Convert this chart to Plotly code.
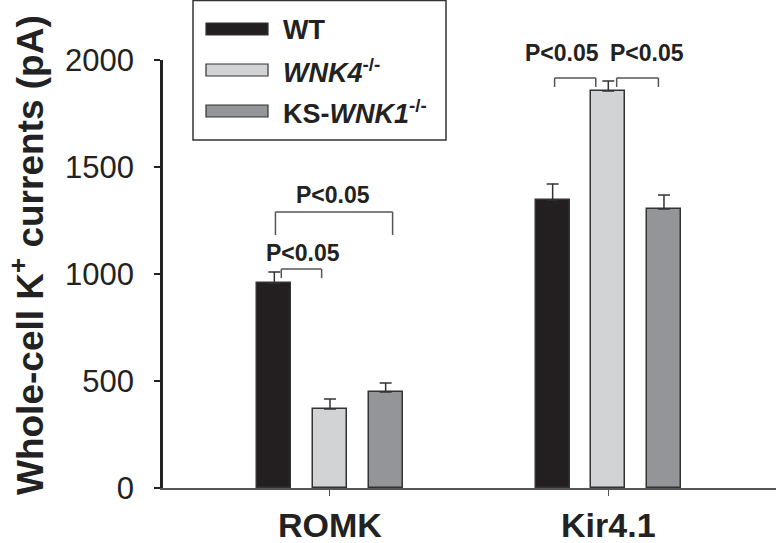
import plotly.graph_objects as go

# ---------------- data ----------------
categories = ["ROMK", "Kir4.1"]
groups = ["WT", "WNK4", "KS-WNK1"]
group_labels = ["WT", "<i>WNK4</i><sup>-/-</sup>", "KS-<i>WNK1</i><sup>-/-</sup>"]
wt_values = [958, 1346]
wnk4_values = [369, 1855]
ks_values = [449, 1304]
wt_err = [51, 75]
wnk4_err = [47, 47]
ks_err = [42, 65]
y_ticks = [0, 500, 1000, 1500, 2000]
sig_label = "P<0.05"

colors = ["#231f20", "#d1d3d4", "#939598"]
offsets = [-0.2, 0.0, 0.2]
bar_w = 0.122

W, H = 776, 543
ML, MR, MT, MB = 163, 0, 60, 55
PW, PH = W - ML - MR, H - MT - MB


def px_x(px):
    return (px - ML) / PW


def px_y(py):
    return (H - MB - py) / PH


fig = go.Figure()
series = [wt_values, wnk4_values, ks_values]
errs = [wt_err, wnk4_err, ks_err]
cat_x = list(range(len(categories)))
for gi, (vals, err) in enumerate(zip(series, errs)):
    fig.add_trace(go.Bar(
        x=[c + offsets[gi] for c in cat_x],
        y=vals,
        width=bar_w,
        name=groups[gi],
        marker=dict(color=colors[gi], line=dict(color="#333333", width=1.5)),
        error_y=dict(type="data", array=err, arrayminus=[0] * len(err),
                     symmetric=False, color="#333333", thickness=1.5, width=6),
        showlegend=False,
    ))

# ---------------- significance brackets ----------------
line_style = dict(color="#555555", width=1.5)


def bracket(x1, x2, ytop, leg):
    for xa, ya, xb, yb in [(x1, ytop - leg, x1, ytop), (x1, ytop, x2, ytop), (x2, ytop, x2, ytop - leg)]:
        fig.add_shape(type="line", x0=xa, y0=ya, x1=xb, y1=yb, xref="x", yref="y", line=line_style)


r, k = 0, 1
# ROMK WT vs WNK4
bracket(r + offsets[0] + 0.025, r + offsets[1] - 0.03, 1023, 42)
# ROMK WT vs KS
bracket(r + offsets[0] + 0.004, r + offsets[2] + 0.025, 1290, 108)
# Kir WT vs WNK4
bracket(k + offsets[0] + 0.007, k + offsets[1] - 0.045, 1916, 42)
# Kir WNK4 vs KS
bracket(k + offsets[1] + 0.03, k + offsets[2] - 0.02, 1916, 42)

sig_font = dict(family="Liberation Sans, Arial", size=23, color="#222222")
for sx, sy in [(r + 0.011, 195), (r - 0.097, 253), (k - 0.165, 53), (k + 0.14, 53)]:
    fig.add_annotation(x=sx, y=px_y(sy), xref="x", yref="paper", text="<b>" + sig_label + "</b>",
                       showarrow=False, font=sig_font, xanchor="center", yanchor="middle")

# ---------------- custom legend ----------------
fig.add_shape(type="rect", xref="paper", yref="paper",
              x0=px_x(193), x1=px_x(446), y0=px_y(140), y1=px_y(0.5),
              line=dict(color="#333333", width=1.5), fillcolor="white", layer="below")
sw_rows = [(23, 35), (64, 76), (105, 117)]
for gi, (t, b) in enumerate(sw_rows):
    fig.add_shape(type="rect", xref="paper", yref="paper",
                  x0=px_x(206), x1=px_x(268), y0=px_y(b), y1=px_y(t),
                  line=dict(color="#333333", width=1.2), fillcolor=colors[gi])
    fig.add_annotation(xref="paper", yref="paper", x=px_x(281), y=px_y((t + b) / 2 + 1),
                       text="<b>" + group_labels[gi] + "</b>", showarrow=False,
                       xanchor="left", yanchor="middle",
                       font=dict(family="Liberation Sans, Arial", size=27, color="#222222"))

# ---------------- y title ----------------
fig.add_annotation(xref="paper", yref="paper", x=px_x(27), y=px_y(255),
                   text="<b>Whole-cell K<sup>+</sup> currents (pA)</b>", textangle=-90,
                   showarrow=False, xanchor="center", yanchor="middle",
                   font=dict(family="Liberation Sans, Arial", size=37, color="#222222"))

fig.update_layout(
    width=W, height=H,
    margin=dict(l=ML, r=MR, t=MT, b=MB, pad=0),
    plot_bgcolor="white", paper_bgcolor="white",
    showlegend=False,
    bargap=0, barmode="overlay",
)
fig.update_xaxes(
    range=[-0.6, 1.6025], tickvals=cat_x,
    ticktext=["<b>" + c + "</b>" for c in categories],
    showline=True, linecolor="#555555", linewidth=1.5,
    ticks="outside", ticklen=6, tickcolor="#555555", tickwidth=1.2,
    showgrid=False, zeroline=False,
    tickfont=dict(family="Liberation Sans, Arial", size=34, color="#222222"),
)
fig.update_yaxes(
    range=[0, 2000], tickvals=y_ticks,
    showline=True, linecolor="#222222", linewidth=2.5,
    ticks="outside", ticklen=6, tickcolor="#222222", tickwidth=1.5,
    showgrid=False, zeroline=False,
    ticklabelstandoff=14,
    tickfont=dict(family="Liberation Sans, Arial", size=31, color="#222222"),
)

fig.write_html("out.html", config={"displayModeBar": False},
               post_script="document.body.style.margin='0px';document.body.style.overflow='hidden';")
